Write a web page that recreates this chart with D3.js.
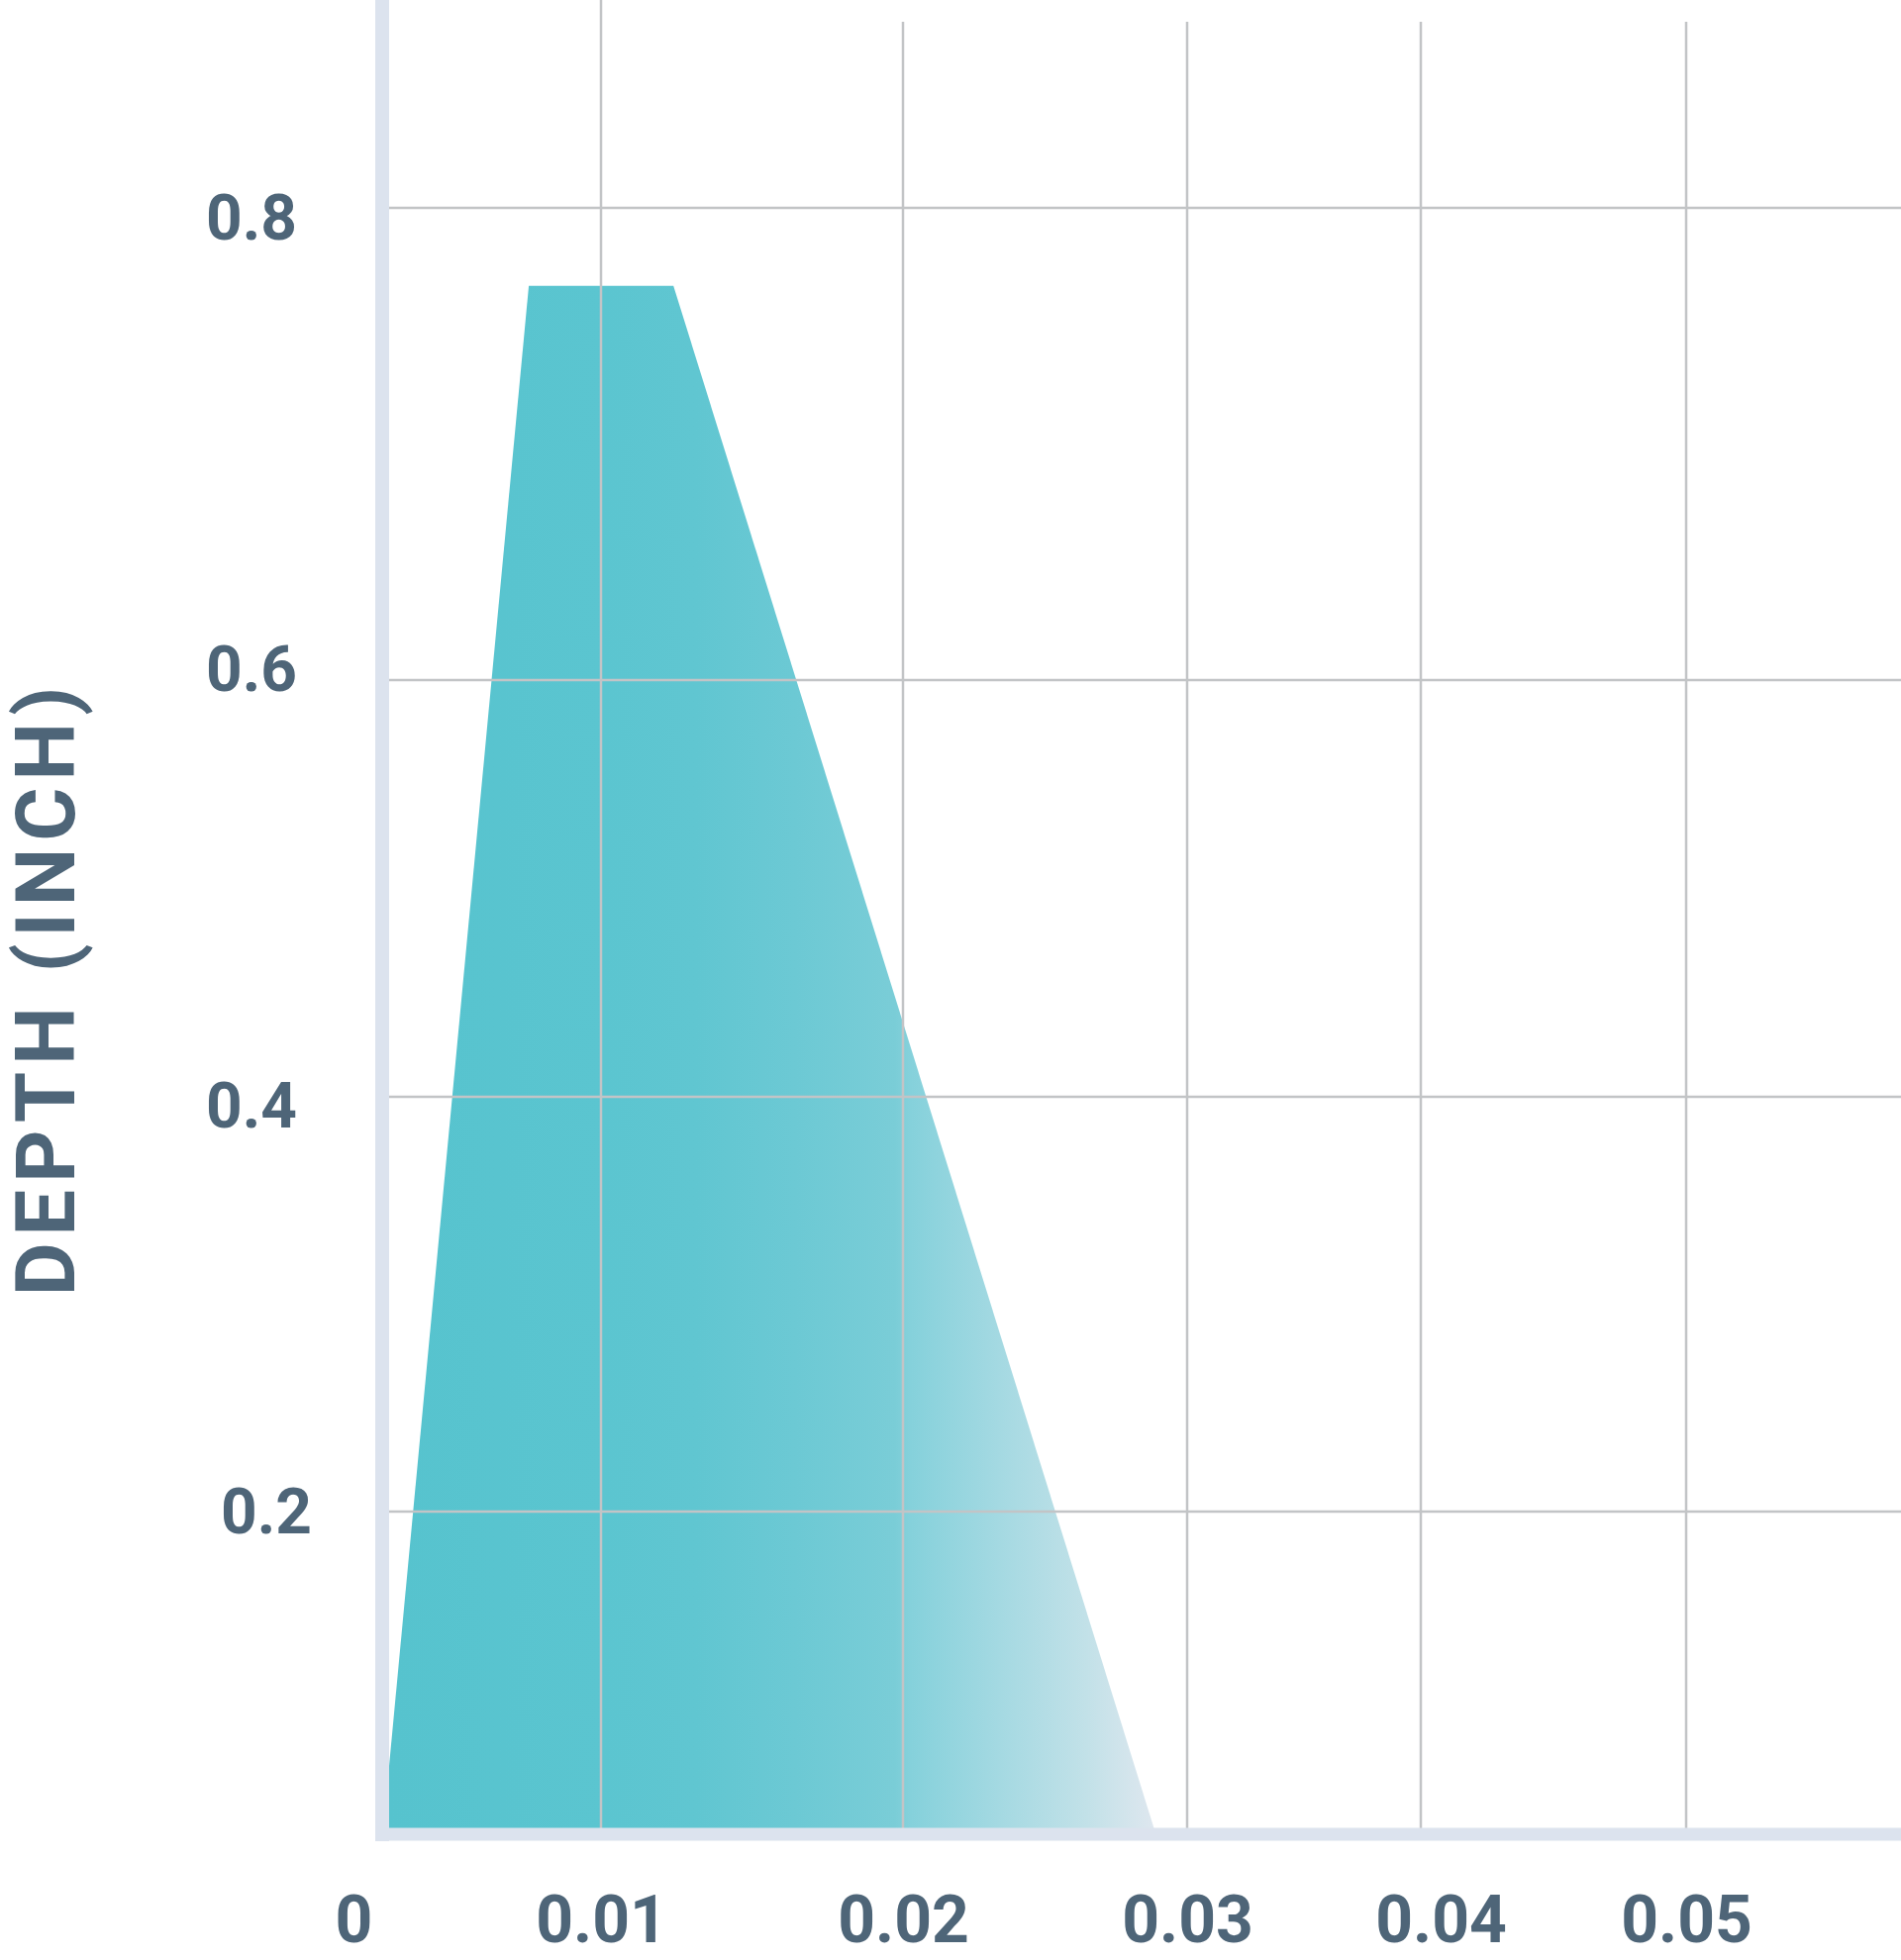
<!DOCTYPE html>
<html>
<head>
<meta charset="utf-8">
<script src="https://cdn.jsdelivr.net/npm/d3@7"></script>
<style>
  html, body { margin: 0; padding: 0; background: #fff; }
  svg { display: block; }
</style>
</head>
<body>
<script>
/* DATA
   depth profile
*/
const xTicks = [0, 0.01, 0.02, 0.03, 0.04, 0.05];
const xTickLabels = ['0', '0.01', '0.02', '0.03', '0.04', '0.05'];
const yTicks = [0.2, 0.4, 0.6, 0.8];
const yTickLabels = ['0.2', '0.4', '0.6', '0.8'];

// outline of the shaded area, going round from the bottom left corner
const profileX = [0.0003, 0.0003, 0.0067, 0.0124, 0.0289];
const profileY = [0, 0.04, 0.767, 0.767, 0];

const yTitle = 'DEPTH (INCH)';

/* SETUP */
const width = 1920;
const height = 1980;
const textColor = '#4e6578';
const gridColor = '#c2c4c6';
const axisColor = '#dce3ee';

// the original axes are not evenly spaced, so the scales are piecewise
const xScale = d3
  .scaleLinear()
  .domain(xTicks)
  .range([386, 607, 912, 1199, 1435, 1703]);

const yScale = d3
  .scaleLinear()
  .domain([0, 0.2, 0.4, 0.6, 0.8])
  .range([1853, 1527, 1108, 687, 210]);

const svg = d3
  .select('body')
  .append('svg')
  .attr('width', width)
  .attr('height', height)
  .attr('viewBox', [0, 0, width, height]);

svg.append('rect')
  .attr('width', width)
  .attr('height', height)
  .attr('fill', '#fff');

/* GRADIENT */
const defs = svg.append('defs');
const grad = defs
  .append('linearGradient')
  .attr('id', 'fade')
  .attr('gradientUnits', 'userSpaceOnUse')
  .attr('x1', xScale(d3.min(profileX)))
  .attr('x2', xScale(d3.max(profileX)))
  .attr('y1', 0)
  .attr('y2', 0);

[
  [0, '#56c3ce'],
  [0.28, '#5bc5d0'],
  [0.4, '#60c6d1'],
  [0.53, '#6cc9d4'],
  [0.66, '#7acdd7'],
  [0.68, '#85d1db'],
  [0.78, '#a0d8e1'],
  [0.91, '#c2e1e8'],
  [1, '#dfe7ef'],
].forEach(([o, c]) => {
  grad.append('stop').attr('offset', o).attr('stop-color', c);
});

/* AREA */
const points = profileX.map((x, i) => [x, profileY[i]]);
const lineGenerator = d3
  .line()
  .x(d => xScale(d[0]))
  .y(d => yScale(d[1]));

svg.append('path')
  .attr('d', lineGenerator(points) + 'Z')
  .attr('fill', 'url(#fade)');

/* GRID */
const grid = svg.append('g');

grid.selectAll('line.h')
  .data(yTicks)
  .join('line')
  .attr('class', 'h')
  .attr('x1', xScale(0) + 4)
  .attr('x2', width)
  .attr('y1', d => yScale(d))
  .attr('y2', d => yScale(d))
  .attr('stroke', gridColor)
  .attr('stroke-width', 2.5);

grid.selectAll('line.v')
  .data(xTicks.slice(1))
  .join('line')
  .attr('class', 'v')
  .attr('x1', d => xScale(d))
  .attr('x2', d => xScale(d))
  .attr('y1', d => (d === 0.01 ? 0 : 22))
  .attr('y2', yScale(0))
  .attr('stroke', gridColor)
  .attr('stroke-width', 2.5);

/* AXIS BANDS */
svg.append('line')
  .attr('x1', xScale(0))
  .attr('x2', xScale(0))
  .attr('y1', 0)
  .attr('y2', yScale(0) + 7)
  .attr('stroke', axisColor)
  .attr('stroke-width', 14);

svg.append('line')
  .attr('x1', xScale(0) - 7)
  .attr('x2', width)
  .attr('y1', yScale(0))
  .attr('y2', yScale(0))
  .attr('stroke', axisColor)
  .attr('stroke-width', 13);

/* TICK LABELS */
const xAxis = d3
  .axisBottom(xScale)
  .tickValues(xTicks)
  .tickSize(0)
  .tickPadding(0)
  .tickFormat((d, i) => xTickLabels[i]);

const yAxis = d3
  .axisLeft(yScale)
  .tickValues(yTicks)
  .tickSize(0)
  .tickPadding(0)
  .tickFormat((d, i) => yTickLabels[i]);

const xAxisGroup = svg
  .append('g')
  .attr('id', 'x-axis')
  .attr('transform', 'translate(0 1962)')
  .call(xAxis);

const yAxisGroup = svg
  .append('g')
  .attr('id', 'y-axis')
  .attr('transform', 'translate(300 0)')
  .call(yAxis);

svg.selectAll('#x-axis path, #y-axis path').remove();

// the labels in the original are placed by hand, a little off their lines
const xNudge = { 0: -29, 0.04: 20 };
const yNudge = { 0.2: [15, -2], 0.4: [0, 7], 0.6: [0, -13], 0.8: [0, 8] };

xAxisGroup.selectAll('text')
  .attr('y', 0)
  .attr('dy', 0)
  .attr('dx', d => xNudge[d] || 0)
  .attr('font-size', 66);

yAxisGroup.selectAll('text')
  .attr('y', d => yNudge[d][1])
  .attr('dy', '0.36em')
  .attr('dx', d => yNudge[d][0])
  .attr('font-size', 64);

svg.selectAll('#x-axis text, #y-axis text')
  .attr('font-family', 'Roboto, sans-serif')
  .attr('font-weight', 700)
  .attr('fill', textColor);

/* AXIS TITLE */
svg.append('text')
  .attr('transform', 'translate(75 998) rotate(-90)')
  .attr('text-anchor', 'middle')
  .attr('font-family', 'Roboto, sans-serif')
  .attr('font-weight', 700)
  .attr('font-size', 83)
  .attr('letter-spacing', 7)
  .attr('fill', textColor)
  .text(yTitle);
</script>
</body>
</html>
